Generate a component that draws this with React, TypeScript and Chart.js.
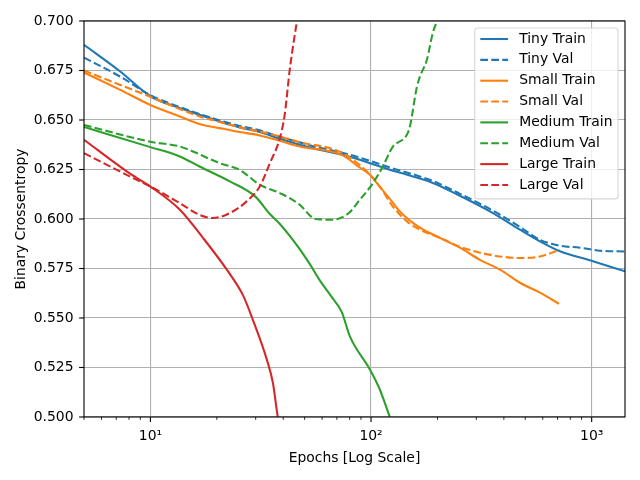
import React, { useEffect, useRef } from 'react';
import { Chart, registerables } from 'chart.js';

Chart.register(...registerables);

// ---------- data ----------
const seriesLabels = ['Tiny Train', 'Tiny Val', 'Small Train', 'Small Val', 'Medium Train', 'Medium Val', 'Large Train', 'Large Val'];
const seriesColors = ['#1f77b4', '#1f77b4', '#ff7f0e', '#ff7f0e', '#2ca02c', '#2ca02c', '#d62728', '#d62728'];
const seriesDashed = [false, true, false, true, false, true, false, true];

const tinyTrainEpochs = [5, 7.3, 10, 13.6, 16.7, 20.6, 25.4, 31.3, 38.6, 47.5, 54.5, 79.3, 98.8, 121.7, 154.7, 190.6, 245, 357, 473, 583, 718, 1014, 1416];
const tinyTrainLoss = [0.688, 0.6745, 0.662, 0.656, 0.6526, 0.6492, 0.6462, 0.6439, 0.6405, 0.6375, 0.6358, 0.6316, 0.6282, 0.6249, 0.6215, 0.6182, 0.6125, 0.603, 0.5946, 0.5887, 0.5837, 0.5787, 0.5736];

const tinyValEpochs = [5, 7.3, 10, 13.6, 16.7, 20.6, 25.4, 31.3, 38.6, 47.5, 54.5, 79.3, 98.8, 121.7, 154.7, 190.6, 245, 357, 473, 583, 718, 885, 1090, 1416];
const tinyValLoss = [0.6815, 0.6719, 0.6625, 0.6565, 0.653, 0.6498, 0.647, 0.6448, 0.6415, 0.6387, 0.6368, 0.6326, 0.6294, 0.626, 0.6226, 0.6192, 0.6135, 0.6042, 0.596, 0.5895, 0.5865, 0.5855, 0.584, 0.5836];

const smallTrainEpochs = [5, 7.3, 10, 13.6, 16.7, 20.6, 25.4, 31.3, 38.6, 47.5, 73.7, 88.9, 98.8, 109.6, 121.7, 135, 166.5, 205, 252.7, 311.5, 384, 473, 583, 711];
const smallTrainLoss = [0.674, 0.6652, 0.6576, 0.6518, 0.648, 0.6459, 0.6439, 0.6422, 0.6395, 0.6366, 0.6324, 0.626, 0.6223, 0.6162, 0.6102, 0.6038, 0.5956, 0.5905, 0.5855, 0.5794, 0.5744, 0.5678, 0.5628, 0.5572];

const smallValEpochs = [5, 7.3, 10, 13.6, 16.7, 20.6, 25.4, 31.3, 38.6, 47.5, 73.7, 98.8, 109.6, 125.6, 145.4, 166.5, 205, 252.7, 311.5, 384, 473, 583, 718];
const smallValLoss = [0.675, 0.6677, 0.6617, 0.6555, 0.6518, 0.649, 0.6464, 0.6442, 0.6417, 0.6388, 0.6335, 0.6225, 0.6164, 0.6063, 0.5988, 0.5946, 0.5905, 0.586, 0.583, 0.5811, 0.5803, 0.5811, 0.5845];

const mediumTrainEpochs = [5, 10, 13.6, 16.7, 22.9, 29.9, 34.8, 38.6, 42.8, 47.5, 52.8, 58.6, 66.4, 73.7, 80.1, 98.8, 109.6, 121.7, 130];
const mediumTrainLoss = [0.6465, 0.6363, 0.6316, 0.6265, 0.619, 0.6113, 0.6025, 0.5975, 0.5915, 0.5848, 0.5772, 0.569, 0.5605, 0.553, 0.5408, 0.524, 0.5139, 0.5, 0.492];

const mediumValEpochs = [5, 10, 13.6, 20.6, 25.4, 31.3, 38.6, 47.5, 54.5, 58.6, 66.4, 79.3, 88.9, 95.7, 102, 113, 125.6, 130.9, 145.4, 150, 161.4, 166.5, 179, 190.6, 198.8, 210];
const mediumValLoss = [0.6475, 0.639, 0.6366, 0.6282, 0.6248, 0.6173, 0.6131, 0.6072, 0.6005, 0.5998, 0.5996, 0.603, 0.6097, 0.614, 0.6181, 0.6265, 0.6366, 0.6383, 0.6425, 0.6467, 0.6668, 0.6719, 0.6803, 0.694, 0.6997, 0.706];

const largeTrainEpochs = [5, 8.05, 10, 13.6, 17.3, 22.2, 26.2, 29.1, 33.7, 35.9, 37.8, 40];
const largeTrainLoss = [0.64, 0.623, 0.6164, 0.6047, 0.5905, 0.5744, 0.5618, 0.5492, 0.529, 0.5173, 0.5, 0.488];

const largeValEpochs = [5, 8.05, 10, 13.6, 16.7, 19.2, 22.9, 27.3, 31.3, 34.8, 38.6, 40.6, 42.8, 45.1, 46.1, 48];
const largeValLoss = [0.6333, 0.6215, 0.6164, 0.608, 0.6021, 0.6005, 0.603, 0.6089, 0.6164, 0.6282, 0.6408, 0.6526, 0.6753, 0.693, 0.6997, 0.715];

const xTickValues = [10, 100, 1000];
const xTickLabels = ['10¹', '10²', '10³'];
const xMin = 5;
const xMax = 1416;
const yMin = 0.5;
const yMax = 0.7;
const yStep = 0.025;

const FONT_FAMILY = 'DejaVu Sans';
const FS = 13.9;

export default function App() {
  const ref = useRef<HTMLCanvasElement>(null);

  useEffect(() => {
    if (!ref.current) return;
    const series: [number[], number[]][] = [
      [tinyTrainEpochs, tinyTrainLoss],
      [tinyValEpochs, tinyValLoss],
      [smallTrainEpochs, smallTrainLoss],
      [smallValEpochs, smallValLoss],
      [mediumTrainEpochs, mediumTrainLoss],
      [mediumValEpochs, mediumValLoss],
      [largeTrainEpochs, largeTrainLoss],
      [largeValEpochs, largeValLoss],
    ];
    const dash = [7.7, 3.3];
    const datasets = series.map(([xs, ys], i) => ({
      label: seriesLabels[i],
      data: xs.map((x, j) => ({ x, y: ys[j] })),
      borderColor: seriesColors[i],
      backgroundColor: seriesColors[i],
      borderWidth: 2.08,
      borderDash: seriesDashed[i] ? dash : [],
      pointRadius: 0,
      fill: false,
      cubicInterpolationMode: 'monotone' as const,
      order: series.length - i,
    }));

    const font = { family: FONT_FAMILY, size: FS, weight: 'normal' as const };

    const decor = {
      id: 'decor',
      afterDraw(chart: any) {
        const { ctx, chartArea } = chart;
        const { left, right, top, bottom } = chartArea;
        const xs = chart.scales.x;
        const ys = chart.scales.y;
        ctx.save();
        ctx.strokeStyle = '#000';
        ctx.setLineDash([]);
        // y ticks
        ctx.lineWidth = 1.1;
        ys.ticks.forEach((t: any) => {
          const py = ys.getPixelForValue(t.value);
          ctx.beginPath();
          ctx.moveTo(left - 4.9, py);
          ctx.lineTo(left, py);
          ctx.stroke();
        });
        // x major ticks
        xTickValues.forEach((v) => {
          const px = xs.getPixelForValue(v);
          ctx.beginPath();
          ctx.moveTo(px, bottom);
          ctx.lineTo(px, bottom + 4.9);
          ctx.stroke();
        });
        // x minor ticks
        ctx.lineWidth = 0.85;
        for (let d = 1; d <= 1000; d *= 10) {
          for (let k = 2; k <= 9; k++) {
            const v = k * d;
            if (v < xs.min || v > xs.max) continue;
            const px = xs.getPixelForValue(v);
            ctx.beginPath();
            ctx.moveTo(px, bottom);
            ctx.lineTo(px, bottom + 2.8);
            ctx.stroke();
          }
        }
        // spines
        ctx.lineWidth = 1.1;
        ctx.strokeRect(left, top, right - left, bottom - top);

        // legend
        ctx.font = `${FS}px "${FONT_FAMILY}"`;
        const dsets = chart.data.datasets;
        const n = dsets.length;
        const textW = Math.max(...dsets.map((d: any) => ctx.measureText(d.label).width));
        const pad = 0.4 * FS;
        const gap = 0.5 * FS;
        const handleLen = 2 * FS;
        const handlePad = 0.8 * FS;
        const boxW = pad + handleLen + handlePad + textW + pad;
        const boxH = 2 * pad + n * FS + (n - 1) * gap;
        const bx = right - 0.5 * FS - boxW;
        const by = top + 0.5 * FS;
        ctx.beginPath();
        if (ctx.roundRect) ctx.roundRect(bx, by, boxW, boxH, 3);
        else ctx.rect(bx, by, boxW, boxH);
        ctx.fillStyle = 'rgba(255,255,255,0.8)';
        ctx.fill();
        ctx.strokeStyle = 'rgba(204,204,204,0.8)';
        ctx.lineWidth = 1.1;
        ctx.stroke();
        dsets.forEach((d: any, i: number) => {
          const cy = by + pad + i * (FS + gap) + 5.5;
          ctx.beginPath();
          ctx.strokeStyle = d.borderColor;
          ctx.lineWidth = 2.08;
          ctx.setLineDash(d.borderDash || []);
          ctx.moveTo(bx + pad, cy);
          ctx.lineTo(bx + pad + handleLen, cy);
          ctx.stroke();
          ctx.setLineDash([]);
          ctx.fillStyle = '#000';
          ctx.textAlign = 'left';
          ctx.textBaseline = 'middle';
          ctx.fillText(d.label, bx + pad + handleLen + handlePad, cy);
        });
        ctx.restore();
      },
    };

    const chart = new Chart(ref.current, {
      type: 'line',
      data: { datasets },
      options: {
        animation: false,
        responsive: false,
        devicePixelRatio: 1,
        layout: { padding: { left: 0, right: 15, top: 21, bottom: 0 } },
        plugins: {
          legend: { display: false },
          tooltip: { enabled: false },
        },
        scales: {
          x: {
            type: 'logarithmic',
            min: xMin,
            max: xMax,
            afterBuildTicks: (s: any) => {
              s.ticks = xTickValues.map((v) => ({ value: v }));
            },
            afterFit: (s: any) => {
              s.height = 63;
            },
            ticks: {
              callback: (v: any) => {
                const i = xTickValues.indexOf(Number(v));
                return i >= 0 ? xTickLabels[i] : '';
              },
              autoSkip: false,
              maxRotation: 0,
              padding: 11,
              color: '#000',
              font,
            },
            grid: { color: '#b0b0b0', lineWidth: 1.1, drawTicks: false },
            border: { display: false },
            title: {
              display: true,
              text: 'Epochs [Log Scale]',
              color: '#000',
              font,
              padding: { top: 0, bottom: 13.7 },
            },
          },
          y: {
            type: 'linear',
            min: yMin,
            max: yMax,
            afterFit: (s: any) => {
              s.width = 84;
            },
            ticks: {
              stepSize: yStep,
              callback: (v: any) => Number(v).toFixed(3),
              padding: 10.5,
              color: '#000',
              font,
            },
            grid: { color: '#b0b0b0', lineWidth: 1.1, drawTicks: false },
            border: { display: false },
            title: {
              display: true,
              text: 'Binary Crossentropy',
              color: '#000',
              font,
              padding: { top: 12.7, bottom: 0 },
            },
          },
        },
      } as any,
      plugins: [decor],
    });
    return () => chart.destroy();
  }, []);

  return (
    <div style={{ position: 'fixed', left: 0, top: 0, width: 640, height: 480, background: '#fff' }}>
      <canvas ref={ref} width={640} height={480} style={{ display: 'block', width: 640, height: 480 }} />
    </div>
  );
}
